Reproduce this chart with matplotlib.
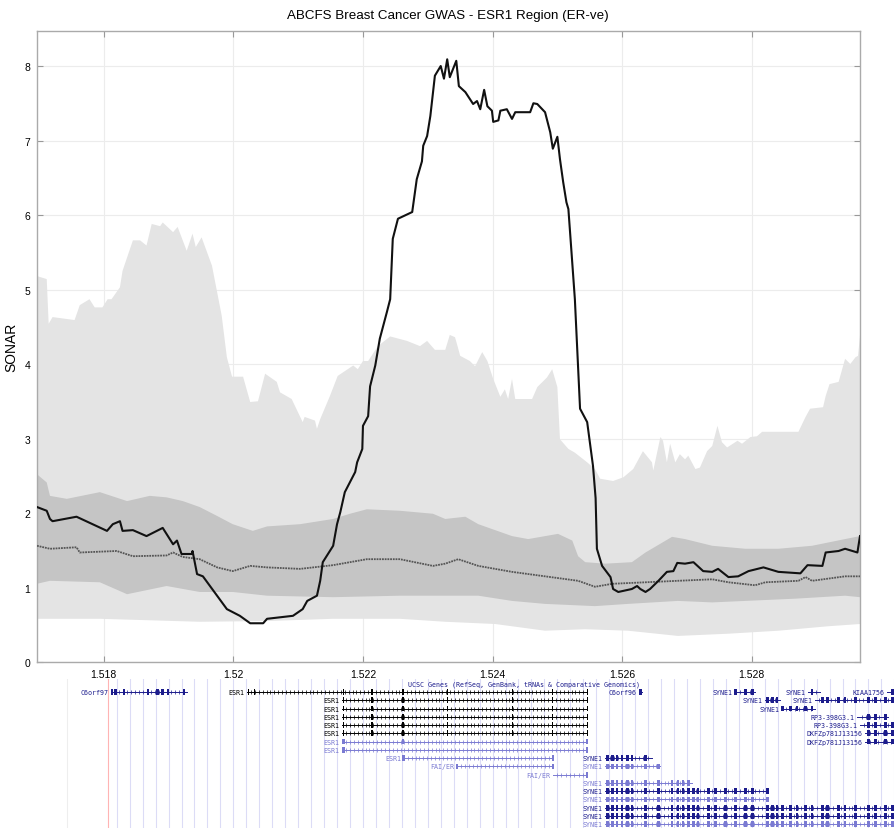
import numpy as np
import matplotlib.pyplot as plt
from matplotlib.patches import Rectangle

plt.rcParams['font.family'] = ['Liberation Sans', 'DejaVu Sans']

# chromosome position (x1e8 bp) and SONAR score
sonar_x = [1.51697, 1.51712, 1.51717, 1.51721, 1.51758, 1.51805, 1.51814, 1.51825, 1.51829, 1.51845,
           1.51866, 1.51891, 1.51907, 1.51913, 1.51920, 1.51936, 1.51937, 1.51944, 1.51953, 1.51990,
           1.52010, 1.52026, 1.52046, 1.52052, 1.52092, 1.52107, 1.52114, 1.52129, 1.52134, 1.52138,
           1.52154, 1.52160, 1.52165, 1.52172, 1.52188, 1.52191, 1.52199, 1.52200, 1.52208, 1.52211,
           1.52219, 1.52226, 1.52237, 1.52242, 1.52246, 1.52254, 1.52276, 1.52283, 1.52291, 1.52293,
           1.52299, 1.52304, 1.52311, 1.52320, 1.52325, 1.52330, 1.52334, 1.52344, 1.52348, 1.52358,
           1.52370, 1.52376, 1.52381, 1.52387, 1.52392, 1.52399, 1.52401, 1.52409, 1.52412, 1.52422,
           1.52430, 1.52435, 1.52458, 1.52463, 1.52469, 1.52481, 1.52489, 1.52493, 1.52500, 1.52504,
           1.52509, 1.52514, 1.52517, 1.52520, 1.52527, 1.52535, 1.52546, 1.52555, 1.52559, 1.52561,
           1.52569, 1.52582, 1.52586, 1.52594, 1.52615, 1.52623, 1.52628, 1.52636, 1.52643, 1.52656,
           1.52669, 1.52679, 1.52685, 1.52697, 1.52710, 1.52725, 1.52739, 1.52748, 1.52764, 1.52779,
           1.52795, 1.52818, 1.52841, 1.52875, 1.52886, 1.52909, 1.52914, 1.52934, 1.52944, 1.52963,
           1.52967]
sonar_y = [2.08, 2.03, 1.92, 1.89, 1.95, 1.76, 1.85, 1.89, 1.76, 1.77,
           1.69, 1.80, 1.58, 1.63, 1.45, 1.45, 1.49, 1.18, 1.15, 0.71,
           0.62, 0.52, 0.52, 0.58, 0.62, 0.71, 0.82, 0.89, 1.09, 1.34,
           1.56, 1.85, 2.01, 2.28, 2.55, 2.68, 2.86, 3.17, 3.30, 3.70,
           3.98, 4.34, 4.70, 4.87, 5.68, 5.95, 6.04, 6.48, 6.72, 6.93,
           7.06, 7.33, 7.87, 8.00, 7.83, 8.09, 7.85, 8.07, 7.73, 7.65,
           7.49, 7.53, 7.42, 7.68, 7.46, 7.40, 7.25, 7.27, 7.40, 7.42,
           7.29, 7.38, 7.38, 7.50, 7.49, 7.38, 7.11, 6.89, 7.05, 6.75,
           6.44, 6.17, 6.08, 5.72, 4.87, 3.40, 3.22, 2.63, 2.20, 1.52,
           1.29, 1.14, 0.98, 0.94, 0.98, 1.02, 0.98, 0.94, 0.98, 1.09,
           1.21, 1.22, 1.33, 1.32, 1.34, 1.22, 1.21, 1.25, 1.14, 1.15,
           1.22, 1.27, 1.21, 1.19, 1.30, 1.29, 1.47, 1.49, 1.52, 1.47,
           1.69]

# null distribution median
med_x = [1.51697, 1.51717, 1.51758, 1.51763, 1.51820, 1.51845, 1.51897, 1.51907, 1.51922, 1.51948,
         1.51975, 1.51999, 1.52026, 1.52052, 1.52103, 1.52154, 1.52206, 1.52257, 1.52308, 1.52327,
         1.52347, 1.52378, 1.52430, 1.52481, 1.52532, 1.52558, 1.52585, 1.52636, 1.52686, 1.52739,
         1.52764, 1.52805, 1.52821, 1.52872, 1.52883, 1.52893, 1.52944, 1.52967]
med_y = [1.56, 1.52, 1.54, 1.47, 1.49, 1.42, 1.43, 1.47, 1.41, 1.38,
         1.27, 1.22, 1.29, 1.27, 1.25, 1.30, 1.38, 1.38, 1.29, 1.32,
         1.38, 1.29, 1.21, 1.15, 1.09, 1.01, 1.05, 1.07, 1.09, 1.11,
         1.07, 1.03, 1.07, 1.09, 1.14, 1.09, 1.15, 1.15]

# inner (dark grey) band
inner_hi_x = [1.51697, 1.51712, 1.51717, 1.51743, 1.51794, 1.51836, 1.51871, 1.51897, 1.51922, 1.51948,
              1.51975, 1.51999, 1.52030, 1.52052, 1.52103, 1.52154, 1.52180, 1.52206, 1.52257, 1.52308,
              1.52327, 1.52358, 1.52378, 1.52430, 1.52455, 1.52501, 1.52523, 1.52532, 1.52543, 1.52574,
              1.52615, 1.52636, 1.52677, 1.52697, 1.52739, 1.52790, 1.52841, 1.52893, 1.52944, 1.52967]
inner_hi_y = [2.52, 2.41, 2.23, 2.19, 2.28, 2.16, 2.23, 2.21, 2.16, 2.08,
              1.96, 1.85, 1.76, 1.82, 1.85, 1.92, 1.99, 2.05, 2.03, 1.99,
              1.92, 1.95, 1.85, 1.69, 1.65, 1.72, 1.63, 1.42, 1.34, 1.32,
              1.34, 1.47, 1.68, 1.65, 1.56, 1.52, 1.52, 1.56, 1.65, 1.69]
inner_lo_x = [1.51697, 1.51717, 1.51794, 1.51836, 1.51897, 1.51948, 1.51999, 1.52052, 1.52154, 1.52257,
              1.52378, 1.52430, 1.52481, 1.52558, 1.52609, 1.52686, 1.52739, 1.52790, 1.52867, 1.52944,
              1.52967]
inner_lo_y = [1.05, 1.09, 1.07, 0.91, 1.02, 0.94, 0.94, 0.89, 0.87, 0.89,
              0.89, 0.82, 0.78, 0.75, 0.78, 0.82, 0.80, 0.82, 0.85, 0.89,
              0.87]

# outer (light grey) band
outer_hi_x = [1.51697, 1.51712, 1.51715, 1.51721, 1.51755, 1.51763, 1.51778, 1.51786, 1.51798, 1.51806,
              1.51812, 1.51825, 1.51829, 1.51845, 1.51856, 1.51866, 1.51874, 1.51887, 1.51891, 1.51907,
              1.51914, 1.51928, 1.51937, 1.51942, 1.51951, 1.51967, 1.51982, 1.51990, 1.51998, 1.52015,
              1.52026, 1.52038, 1.52049, 1.52067, 1.52072, 1.52090, 1.52107, 1.52110, 1.52126, 1.52129,
              1.52134, 1.52149, 1.52161, 1.52185, 1.52192, 1.52200, 1.52208, 1.52223, 1.52242, 1.52268,
              1.52288, 1.52299, 1.52311, 1.52327, 1.52334, 1.52342, 1.52345, 1.52350, 1.52365, 1.52373,
              1.52384, 1.52392, 1.52401, 1.52412, 1.52419, 1.52424, 1.52430, 1.52435, 1.52461, 1.52469,
              1.52484, 1.52492, 1.52500, 1.52504, 1.52517, 1.52527, 1.52546, 1.52558, 1.52566, 1.52586,
              1.52602, 1.52617, 1.52632, 1.52646, 1.52648, 1.52659, 1.52663, 1.52669, 1.52674, 1.52682,
              1.52689, 1.52697, 1.52702, 1.52713, 1.52720, 1.52731, 1.52739, 1.52747, 1.52754, 1.52762,
              1.52778, 1.52785, 1.52798, 1.52808, 1.52816, 1.52872, 1.52883, 1.52890, 1.52910, 1.52914,
              1.52920, 1.52934, 1.52944, 1.52952, 1.52960, 1.52964, 1.52967]
outer_hi_y = [5.18, 5.14, 4.54, 4.63, 4.59, 4.79, 4.87, 4.76, 4.76, 4.87,
              4.87, 5.03, 5.25, 5.66, 5.66, 5.59, 5.88, 5.85, 5.90, 5.77,
              5.84, 5.52, 5.75, 5.57, 5.70, 5.32, 4.65, 4.09, 3.83, 3.83,
              3.49, 3.50, 3.87, 3.76, 3.62, 3.53, 3.22, 3.29, 3.24, 3.13,
              3.26, 3.57, 3.84, 3.98, 3.93, 4.04, 4.04, 4.24, 4.37, 4.31,
              4.24, 4.31, 4.19, 4.19, 4.39, 4.36, 4.27, 4.11, 4.04, 3.97,
              4.16, 4.04, 3.80, 3.56, 3.66, 3.53, 3.80, 3.53, 3.53, 3.69,
              3.82, 3.93, 3.69, 2.99, 2.86, 2.81, 2.68, 2.59, 2.46, 2.43,
              2.48, 2.59, 2.83, 2.68, 2.57, 3.02, 2.97, 2.68, 2.93, 2.68,
              2.79, 2.72, 2.77, 2.59, 2.61, 2.83, 2.90, 3.17, 2.95, 2.88,
              2.97, 2.93, 3.02, 3.03, 3.09, 3.09, 3.29, 3.40, 3.42, 3.57,
              3.73, 3.76, 4.07, 4.00, 4.09, 4.11, 4.38]
outer_lo_x = [1.51697, 1.51794, 1.51948, 1.52052, 1.52154, 1.52257, 1.52327, 1.52404, 1.52481, 1.52543,
              1.52609, 1.52686, 1.52764, 1.52841, 1.52918, 1.52967]
outer_lo_y = [0.58, 0.58, 0.54, 0.55, 0.58, 0.58, 0.54, 0.51, 0.42, 0.44,
              0.42, 0.35, 0.38, 0.42, 0.48, 0.51]

xticks = [1.518, 1.520, 1.522, 1.524, 1.526, 1.528]
xtick_labels = ['1.518', '1.52', '1.522', '1.524', '1.526', '1.528']
yticks = [0, 1, 2, 3, 4, 5, 6, 7, 8]

# UCSC gene track (positions in the same x units)
c6orf97_exons = [1.51813, 1.51818, 1.51831, 1.51868, 1.51883, 1.51891, 1.51899, 1.51924]
esr1_exons = [1.52170, 1.52214, 1.52262, 1.52331, 1.52431, 1.52493, 1.52546]
syne1_exons = [1.52577, 1.52585, 1.52592, 1.52600, 1.52608, 1.52615, 1.52636, 1.52656, 1.52677, 1.52686,
               1.52694, 1.52702, 1.52710, 1.52717, 1.52733, 1.52744, 1.52759, 1.52775, 1.52790, 1.52801,
               1.52824, 1.52832, 1.52839, 1.52847, 1.52860, 1.52870, 1.52883, 1.52893, 1.52909, 1.52917,
               1.52934, 1.52944, 1.52960, 1.52980, 1.52991, 1.53006, 1.53017]

genes = [
    ('C6orf97', 1.51812, 1.51928, 0, 'navy', c6orf97_exons),
    ('ESR1', 1.52021, 1.52546, 0, 'black', [1.52023, 1.52033] + esr1_exons),
    ('ESR1', 1.52168, 1.52546, 1, 'black', esr1_exons),
    ('ESR1', 1.52168, 1.52546, 2, 'black', esr1_exons),
    ('ESR1', 1.52168, 1.52546, 3, 'black', esr1_exons),
    ('ESR1', 1.52168, 1.52546, 4, 'black', esr1_exons),
    ('ESR1', 1.52168, 1.52546, 5, 'black', esr1_exons),
    ('ESR1', 1.52168, 1.52546, 6, 'light', [1.52170, 1.52262, 1.52546]),
    ('ESR1', 1.52168, 1.52546, 7, 'light', [1.52170, 1.52546]),
    ('ESR1', 1.52263, 1.52493, 8, 'light', [1.52263, 1.52493]),
    ('FAI/ER', 1.52345, 1.52493, 9, 'light', [1.52345, 1.52493]),
    ('FAI/ER', 1.52493, 1.52546, 10, 'light', [1.52546]),
    ('C6orf96', 1.52626, 1.52630, 0, 'navy', [1.52628]),
    ('SYNE1', 1.52775, 1.52805, 0, 'navy', syne1_exons),
    ('SYNE1', 1.52887, 1.52906, 0, 'navy', syne1_exons),
    ('KIAA1756', 1.53009, 1.53022, 0, 'navy', syne1_exons),
    ('SYNE1', 1.52821, 1.52844, 1, 'navy', syne1_exons),
    ('SYNE1', 1.52898, 1.53022, 1, 'navy', syne1_exons),
    ('SYNE1', 1.52847, 1.52898, 2, 'navy', syne1_exons),
    ('RP3-398G3.1', 1.52963, 1.53010, 3, 'navy', syne1_exons),
    ('RP3-398G3.1', 1.52967, 1.53022, 4, 'navy', syne1_exons),
    ('DKFZp781J13156', 1.52975, 1.53022, 5, 'navy', syne1_exons),
    ('DKFZp781J13156', 1.52975, 1.53022, 6, 'navy', syne1_exons),
    ('SYNE1', 1.52574, 1.52646, 8, 'navy', syne1_exons),
    ('SYNE1', 1.52574, 1.52659, 9, 'light', syne1_exons),
    ('SYNE1', 1.52574, 1.52708, 11, 'light', syne1_exons),
    ('SYNE1', 1.52574, 1.52824, 12, 'navy', syne1_exons),
    ('SYNE1', 1.52574, 1.52824, 13, 'light', syne1_exons),
    ('SYNE1', 1.52574, 1.53022, 14, 'navy', syne1_exons),
    ('SYNE1', 1.52574, 1.53022, 15, 'navy', syne1_exons),
    ('SYNE1', 1.52574, 1.53022, 16, 'light', syne1_exons),
]
gene_colors = {'navy': '#1c1c8c', 'black': '#000000', 'light': '#7a7ad2'}

W, H = 895, 829
fig = plt.figure(figsize=(W / 100, H / 100), dpi=100)
ax = fig.add_axes([37 / W, 1 - 663 / H, (860 - 37) / W, (663 - 32) / H])

ax.fill(np.r_[outer_hi_x, outer_lo_x[::-1]], np.r_[outer_hi_y, outer_lo_y[::-1]],
        color='#e4e4e4', lw=0, zorder=1)
ax.fill(np.r_[inner_hi_x, inner_lo_x[::-1]], np.r_[inner_hi_y, inner_lo_y[::-1]],
        color='#c5c5c5', lw=0, zorder=2)
ax.plot(med_x, med_y, color='#555555', lw=1.3, ls=(0, (1, 0.5)), zorder=3)
ax.plot(sonar_x, sonar_y, color='#111111', lw=1.5, zorder=4)

xmin, xmax = sonar_x[0], sonar_x[-1]
ax.set_xlim(xmin, xmax)
ax.set_ylim(0, 8.47)
ax.set_xticks(xticks)
ax.set_xticklabels(xtick_labels)
ax.set_yticks(yticks)
ax.grid(True, color='#ececec', lw=0.8)
ax.set_axisbelow(True)
ax.tick_params(direction='in', top=True, right=True, length=4, width=0.8, color='#999999',
               labelsize=7.5, pad=5)
for s in ax.spines.values():
    s.set_color('#aaaaaa')
    s.set_linewidth(1.0)
ax.set_ylabel('SONAR', fontsize=10)
ax.yaxis.set_label_coords(-19 / 823, 0.5)
fig.text(0.5, 1 - 16 / H, 'ABCFS Breast Cancer GWAS - ESR1 Region (ER-ve)',
         ha='center', va='center', fontsize=9.6)

# gene track underneath, same genomic scale
gax = fig.add_axes([37 / W, 0, (W - 37) / W, (H - 680) / H])
gax.set_xlim(xmin, xmin + (xmax - xmin) * (W - 37) / (860 - 37))
gax.set_ylim(16.45, -1.57)
gax.axis('off')

for gx in np.arange(1.51820, 1.5303, 0.0002):
    gax.axvline(gx, color='#dcdcf6', lw=0.8, zorder=0)
gax.axvline(1.51744, color='#eeeeee', lw=0.8, zorder=0)
gax.axvline(1.51806, color='#ffb4b4', lw=0.8, zorder=0)

gax.text(1.52449, -1.05, 'UCSC Genes (RefSeq, GenBank, tRNAs & Comparative Genomics)',
         ha='center', va='center', fontsize=4.8, family='DejaVu Sans Mono', color='#1c1c8c')

for label, start, end, row, tone, exons in genes:
    c = gene_colors[tone]
    gax.plot([start, end], [row, row], color=c, lw=0.7, zorder=2)
    n = int((end - start) / 0.00006)
    if n > 1:
        xs = np.linspace(start, end, n + 1)[1:-1]
        gax.plot(xs, [row] * len(xs), ls='none', marker='|', ms=2.2, mew=0.5, color=c, zorder=2)
    ew = 0.00002 if tone == 'black' else 0.00004
    for e in exons:
        if start - 1e-6 <= e <= end + 1e-6:
            gax.add_patch(Rectangle((e - ew / 2, row - 0.35), ew, 0.7, color=c, lw=0, zorder=3))
    gax.text(start - 0.00004, row, label, ha='right', va='center', fontsize=4.8,
             family='DejaVu Sans Mono', color=c)

fig.savefig('out.png', dpi=100)
